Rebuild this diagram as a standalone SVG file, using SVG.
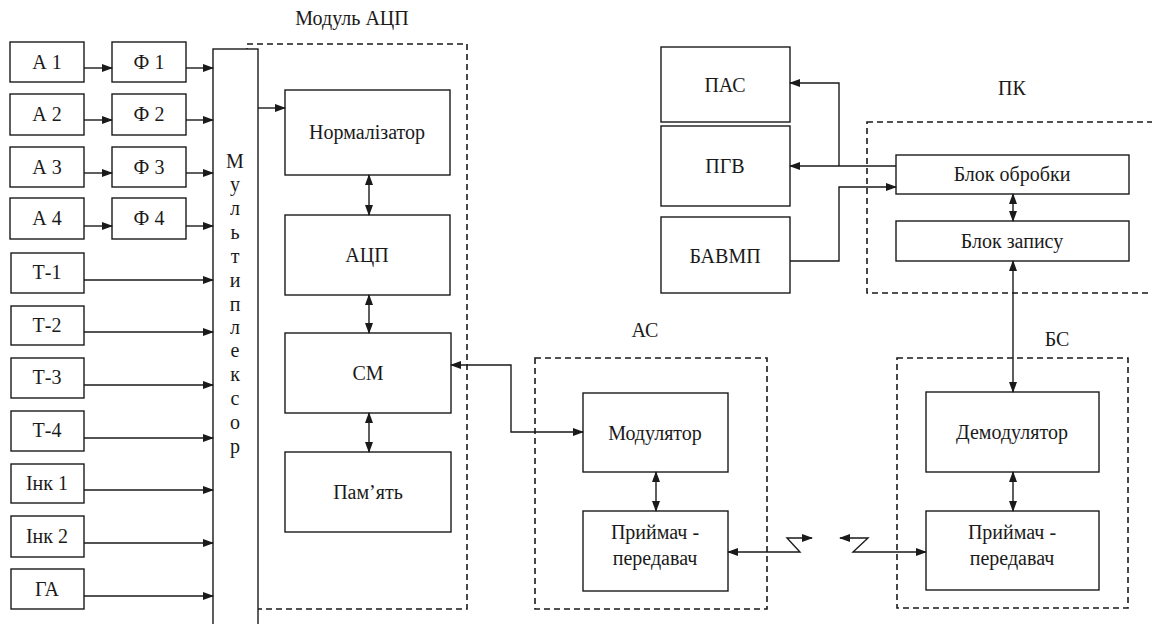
<svg xmlns="http://www.w3.org/2000/svg" width="1152" height="624" viewBox="0 0 1152 624" font-family="Liberation Serif, DejaVu Serif, serif">
<style>
.box{fill:#fff;stroke:#1a1a1a;stroke-width:1.4}
.dash{fill:none;stroke:#1a1a1a;stroke-width:1.6;stroke-dasharray:6 4}
.ln{fill:none;stroke:#1a1a1a;stroke-width:1.4}
text{font-family:"Liberation Serif","DejaVu Serif",serif;font-size:20px;fill:#1a1a1a;text-anchor:middle}
</style>
<defs>
<marker id="ah" markerUnits="userSpaceOnUse" markerWidth="11" markerHeight="8" refX="10" refY="4" orient="auto-start-reverse">
<path d="M0,0 L11,4 L0,8 z" fill="#1a1a1a"/>
</marker>
</defs>
<rect width="1152" height="624" fill="#fff"/>

<g id="module-adc-frame">
<rect class="dash" x="247" y="44" width="220" height="565"/>
<text x="352" y="25" font-family="Liberation Serif">Модуль АЦП</text>
</g>
<g id="as-frame">
<rect class="dash" x="535" y="358" width="232" height="251"/>
<text x="645" y="337" font-family="Liberation Serif">АС</text>
</g>
<g id="bs-frame">
<rect class="dash" x="897" y="358" width="231" height="250"/>
<text x="1057" y="346" font-family="Liberation Serif">БС</text>
</g>
<g id="pk-frame">
<rect class="dash" x="867" y="122" width="300" height="171"/>
<text x="1012" y="95" font-family="Liberation Serif">ПК</text>
</g>

<g id="a1"><rect class="box" x="10" y="42" width="74" height="40"/><text x="47" y="69">А 1</text></g>
<g id="f1"><rect class="box" x="112" y="42" width="74" height="40"/><text x="149" y="69">Ф 1</text></g>
<g id="a2"><rect class="box" x="10" y="94" width="74" height="41"/><text x="47" y="121">А 2</text></g>
<g id="f2"><rect class="box" x="112" y="94" width="74" height="41"/><text x="149" y="121">Ф 2</text></g>
<g id="a3"><rect class="box" x="10" y="147" width="74" height="40"/><text x="47" y="174">А 3</text></g>
<g id="f3"><rect class="box" x="112" y="147" width="74" height="40"/><text x="149" y="174">Ф 3</text></g>
<g id="a4"><rect class="box" x="10" y="198" width="74" height="41"/><text x="47" y="225">А 4</text></g>
<g id="f4"><rect class="box" x="112" y="198" width="74" height="41"/><text x="149" y="225">Ф 4</text></g>
<g id="t1"><rect class="box" x="11" y="253" width="73" height="40"/><text x="47" y="279">Т-1</text></g>
<g id="t2"><rect class="box" x="11" y="306" width="73" height="39"/><text x="47" y="332">Т-2</text></g>
<g id="t3"><rect class="box" x="11" y="358" width="73" height="40"/><text x="47" y="384">Т-3</text></g>
<g id="t4"><rect class="box" x="11" y="411" width="73" height="40"/><text x="47" y="437">Т-4</text></g>
<g id="ink1"><rect class="box" x="11" y="464" width="73" height="39"/><text x="47" y="490">Інк 1</text></g>
<g id="ink2"><rect class="box" x="11" y="516" width="73" height="41"/><text x="47" y="543">Інк 2</text></g>
<g id="ga"><rect class="box" x="11" y="569" width="73" height="40"/><text x="47" y="596">ГА</text></g>

<g id="mux">
<rect class="box" x="213" y="49" width="45" height="600"/>
<text x="235" y="168">М</text>
<text x="235" y="191">у</text>
<text x="235" y="215">л</text>
<text x="235" y="239">ь</text>
<text x="235" y="263">т</text>
<text x="235" y="287">и</text>
<text x="235" y="311">п</text>
<text x="235" y="334">л</text>
<text x="235" y="357">е</text>
<text x="235" y="381">к</text>
<text x="235" y="405">с</text>
<text x="235" y="429">о</text>
<text x="235" y="453">р</text>
</g>

<g id="normalizer"><rect class="box" x="285" y="90" width="165" height="85"/><text x="367" y="139">Нормалізатор</text></g>
<g id="adc"><rect class="box" x="285" y="215" width="165" height="80"/><text x="367" y="262">АЦП</text></g>
<g id="cm"><rect class="box" x="285" y="333" width="166" height="80"/><text x="368" y="380">СМ</text></g>
<g id="memory"><rect class="box" x="285" y="452" width="166" height="80"/><text x="368" y="499">Пам’ять</text></g>

<g id="modulator"><rect class="box" x="583" y="393" width="145" height="79"/><text x="655" y="440">Модулятор</text></g>
<g id="trx-as"><rect class="box" x="583" y="511" width="145" height="80"/><text x="655" y="539">Приймач -</text><text x="655" y="565">передавач</text></g>

<g id="demodulator"><rect class="box" x="926" y="392" width="173" height="80"/><text x="1012" y="439">Демодулятор</text></g>
<g id="trx-bs"><rect class="box" x="926" y="511" width="173" height="79"/><text x="1012" y="539">Приймач -</text><text x="1012" y="565">передавач</text></g>

<g id="processing"><rect class="box" x="896" y="155" width="233" height="39"/><text x="1012" y="181">Блок обробки</text></g>
<g id="recording"><rect class="box" x="896" y="221" width="233" height="40"/><text x="1012" y="248">Блок запису</text></g>

<g id="pas"><rect class="box" x="661" y="47" width="129" height="75"/><text x="725" y="92">ПАС</text></g>
<g id="pgv"><rect class="box" x="661" y="126" width="129" height="80"/><text x="725" y="173">ПГВ</text></g>
<g id="bavmp"><rect class="box" x="661" y="217" width="129" height="76"/><text x="725" y="263">БАВМП</text></g>

<g id="connectors">
<line class="ln" x1="84" y1="68" x2="112" y2="68" marker-end="url(#ah)"/>
<line class="ln" x1="84" y1="120" x2="112" y2="120" marker-end="url(#ah)"/>
<line class="ln" x1="84" y1="173" x2="112" y2="173" marker-end="url(#ah)"/>
<line class="ln" x1="84" y1="226" x2="112" y2="226" marker-end="url(#ah)"/>
<line class="ln" x1="186" y1="68" x2="213" y2="68" marker-end="url(#ah)"/>
<line class="ln" x1="186" y1="120" x2="213" y2="120" marker-end="url(#ah)"/>
<line class="ln" x1="186" y1="173" x2="213" y2="173" marker-end="url(#ah)"/>
<line class="ln" x1="186" y1="226" x2="213" y2="226" marker-end="url(#ah)"/>
<line class="ln" x1="84" y1="280" x2="213" y2="280" marker-end="url(#ah)"/>
<line class="ln" x1="84" y1="332" x2="213" y2="332" marker-end="url(#ah)"/>
<line class="ln" x1="84" y1="385" x2="213" y2="385" marker-end="url(#ah)"/>
<line class="ln" x1="84" y1="438" x2="213" y2="438" marker-end="url(#ah)"/>
<line class="ln" x1="84" y1="490" x2="213" y2="490" marker-end="url(#ah)"/>
<line class="ln" x1="84" y1="543" x2="213" y2="543" marker-end="url(#ah)"/>
<line class="ln" x1="84" y1="596" x2="213" y2="596" marker-end="url(#ah)"/>
<line class="ln" x1="258" y1="108" x2="285" y2="108" marker-end="url(#ah)"/>
<line class="ln" x1="369" y1="175" x2="369" y2="215" marker-start="url(#ah)" marker-end="url(#ah)"/>
<line class="ln" x1="369" y1="295" x2="369" y2="333" marker-start="url(#ah)" marker-end="url(#ah)"/>
<line class="ln" x1="369" y1="413" x2="369" y2="452" marker-start="url(#ah)" marker-end="url(#ah)"/>
<polyline class="ln" points="451,365 511,365 511,432 583,432" marker-start="url(#ah)" marker-end="url(#ah)"/>
<line class="ln" x1="656" y1="472" x2="656" y2="511" marker-start="url(#ah)" marker-end="url(#ah)"/>
<polyline class="ln" points="728,552 800,552 787,538 812,538" marker-start="url(#ah)" marker-end="url(#ah)"/>
<polyline class="ln" points="840,538 868,538 853,552 926,552" marker-start="url(#ah)" marker-end="url(#ah)"/>
<line class="ln" x1="1013" y1="472" x2="1013" y2="511" marker-start="url(#ah)" marker-end="url(#ah)"/>
<line class="ln" x1="1013" y1="261" x2="1013" y2="392" marker-start="url(#ah)" marker-end="url(#ah)"/>
<line class="ln" x1="1013" y1="194" x2="1013" y2="221" marker-start="url(#ah)" marker-end="url(#ah)"/>
<line class="ln" x1="896" y1="166" x2="790" y2="166" marker-end="url(#ah)"/>
<polyline class="ln" points="839,166 839,83 790,83" marker-end="url(#ah)"/>
<polyline class="ln" points="790,261 839,261 839,187 896,187" marker-end="url(#ah)"/>
</g>
</svg>
